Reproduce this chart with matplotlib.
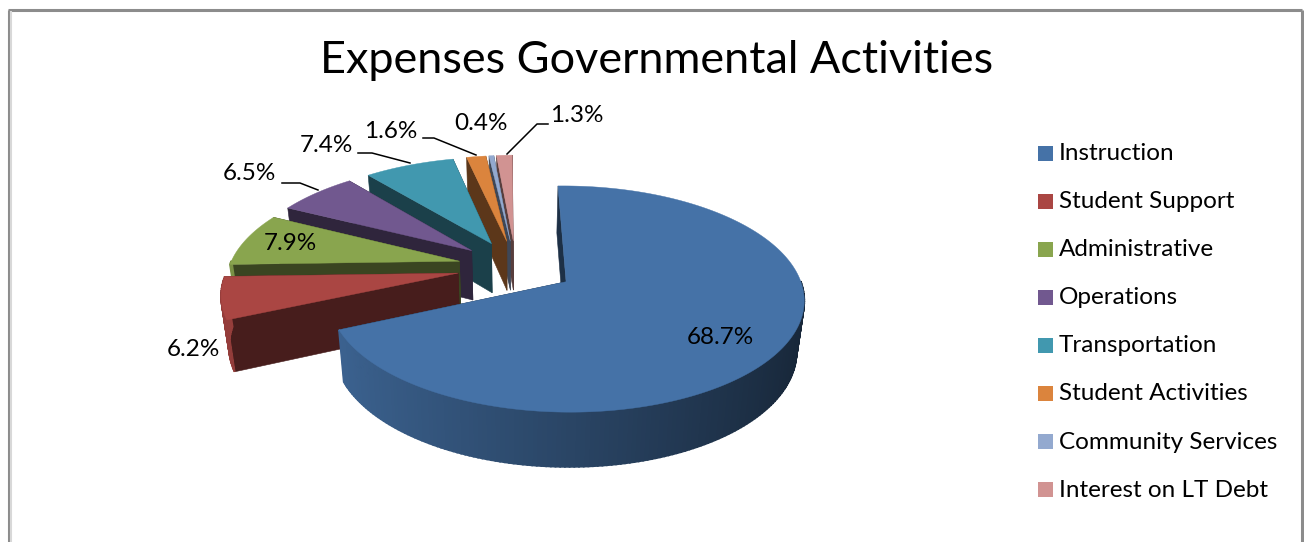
import numpy as np
import matplotlib
matplotlib.use('Agg')
import matplotlib.pyplot as plt
from matplotlib.patches import Rectangle
from matplotlib.colors import to_rgb

#---------------data--------------------------------------------------------------
categories = ['Instruction','Student Support','Administrative','Operations','Transportation','Student Activities','Community Services','Interest on LT Debt']
percents = [68.7,6.2,7.9,6.5,7.4,1.6,0.4,1.3]
colors = ['#4572A7','#AA4643','#89A54E','#71588F','#4198AF','#DB843D','#93A9CF','#D19392']
chart_title = 'Expenses Governmental Activities'

#---------------3d pie settings---------------------------------------------------
first_angle = -1.4
explode = 0.255
cx, cy = 516.0, 267.0
rx, ry = 230.0, 106.0
persp = 0.15
skew = 4.0
depth = 50.0
base_scale = 0.973

def project(u,v):
    k = 1.0/(1+persp*v)
    return cx+(rx*u+skew*v)*k, cy-ry*v*k

def drop(sx,sy,v):
    # point on the bottom of the pie below a point of the top face
    return cx+(sx-cx)*base_scale, sy+depth/(1+0.5*persp*v)

def shade(color,f):
    return tuple(c*f for c in to_rgb(color))

fig = plt.figure(figsize=(13.04,5.42),dpi=100)
ax = fig.add_axes([0,0,1,1])
ax.set_xlim(0,1304)
ax.set_ylim(542,0)
ax.axis('off')

# chart frame, open at the bottom
ax.plot([8.5,8.5],[542,9.5],color='#8c8c8c',lw=2.2,solid_capstyle='butt')
ax.plot([7.5,1301.5],[9.5,9.5],color='#8c8c8c',lw=2.2,solid_capstyle='butt')
ax.plot([1301.5,1301.5],[9.5,542],color='#8c8c8c',lw=2.2,solid_capstyle='butt')
ax.plot([10.8,10.8],[11,542],color='#d8d8d8',lw=1.5,solid_capstyle='butt')

# slice angles, clockwise from the top
angles = first_angle+np.concatenate([[0],np.cumsum(percents)])/sum(percents)*360.0

# back slices first, the large front slice last
for i in list(range(len(percents)-1,0,-1))+[0]:
    a0, a1 = np.radians(angles[i]), np.radians(angles[i+1])
    mid = (a0+a1)/2
    u0, v0 = explode*np.sin(mid), explode*np.cos(mid)
    th = np.linspace(a0,a1,max(int(np.degrees(a1-a0)),2)+1)
    u = u0+np.sin(th)
    v = v0+np.cos(th)
    sx, sy = project(u,v)
    bx, by = drop(sx,sy,v)
    ax0, ay0 = project(u0,v0)
    bx0, by0 = drop(ax0,ay0,v0)

    # flat cut faces
    for j in [0,-1]:
        ax.fill([ax0,sx[j],bx[j],bx0],[ay0,sy[j],by[j],by0],color=shade(colors[i],0.42),lw=0.4)

    # outer wall, darker towards the right, only the part facing the viewer
    for j in range(len(th)-1):
        if np.cos((th[j]+th[j+1])/2) > 0.0:
            continue
        t = (np.sin((th[j]+th[j+1])/2)+1)/2
        c = shade(colors[i],0.88-0.55*t)
        ax.fill([sx[j],sx[j+1],bx[j+1],bx[j]],[sy[j],sy[j+1],by[j+1],by[j]],color=c,lw=1.3)

    # top face
    ax.fill(np.r_[ax0,sx],np.r_[ay0,sy],color=colors[i],lw=0.3)

#---------------labels------------------------------------------------------------
plt.rcParams['font.family'] = ['Lato','DejaVu Sans']
lab_x = [720,193,290,249,326,391,481,577]
lab_y = [338,349,244,174,146,131,124,116]
for i in range(len(percents)):
    ax.text(lab_x[i],lab_y[i],'{:.1f}%'.format(percents[i]),ha='center',va='center',fontsize=17.5,color='black')

# leader lines
ax.plot([282,300,318],[183,183,190],color='black',lw=1.1)
ax.plot([358,372,410],[153,153,163],color='black',lw=1.1)
ax.plot([423,434,476],[138,138,155],color='black',lw=1.1)
ax.plot([548,537,507],[124,124,154],color='black',lw=1.1)

ax.text(657,60.5,chart_title,ha='center',va='center',fontsize=32.4,color='black')

#---------------legend------------------------------------------------------------
for i in range(len(categories)):
    y = 153+48.1*i
    ax.add_patch(Rectangle((1038,y-7.5),15,15,color=colors[i],lw=0))
    ax.text(1059,y+0.5,categories[i],ha='left',va='center',fontsize=17.5,color='black')

plt.savefig('out.png',dpi=100)
